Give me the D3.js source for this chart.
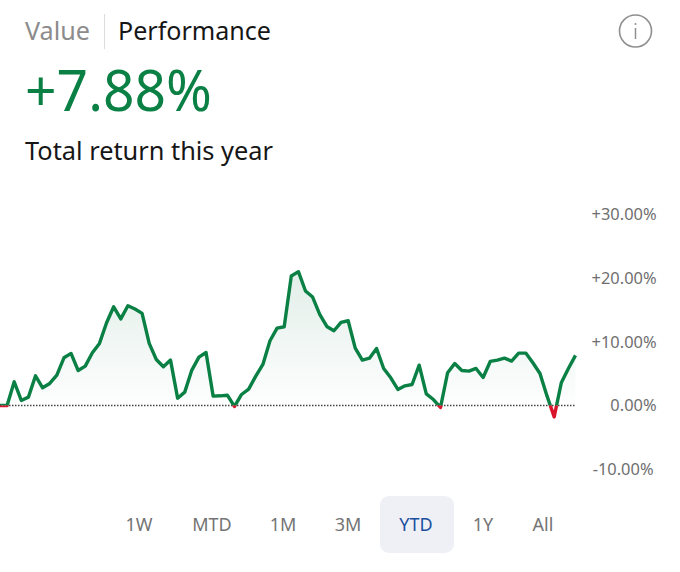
<!DOCTYPE html>
<html><head><meta charset="utf-8">
<script src="https://cdn.jsdelivr.net/npm/d3@7"></script>
<style>html,body{margin:0;padding:0;background:#fff}svg{display:block}text{font-family:"Noto Sans",sans-serif}</style>
</head><body><svg id="c" width="680" height="572"></svg>
<script>
const returns=[0,0,3.72,0.79,1.31,4.66,2.78,3.46,4.77,7.49,8.18,5.5,6.18,8.28,9.75,13.0,15.5,13.6,15.67,15.15,14.47,9.75,7.23,6.08,7.13,1.15,2.1,5.56,7.6,8.33,1.47,1.52,1.62,-0.15,1.73,2.57,4.61,6.45,10.17,12.16,12.37,20.34,21.02,17.98,17.03,14.31,12.42,11.74,13.05,13.31,9.01,7.13,7.44,8.96,5.82,4.35,2.52,3.09,3.3,6.34,1.83,0.94,-0.3,5.14,6.6,5.5,5.4,5.82,4.4,6.92,7.13,7.44,6.97,8.23,8.23,6.71,5.03,1.47,-1.78,3.56,5.82,7.88];
const yTicks=[30,20,10,0,-10];
const ranges=["1W","MTD","1M","3M","YTD","1Y","All"];
const rangeX=[139,212,283,348,416,483,543];
const selectedRange="YTD";
const tabs=["Value","Performance"];
const headline="+7.88%";
const subtitle="Total return this year";

const svg=d3.select("#c");
const x=d3.scaleLinear().domain([0,returns.length-1]).range([0,575.5]);
const y=d3.scaleLinear().domain([0,30]).range([405.5,214.5]);
const GREEN="#0a8045",RED="#d9152c";

// header
svg.append("text").attr("x",25).attr("y",40).attr("font-size",25.5).attr("fill","#8c8c8c").attr("textLength",65).attr("lengthAdjust","spacingAndGlyphs").text(tabs[0]);
svg.append("line").attr("x1",104.5).attr("x2",104.5).attr("y1",14).attr("y2",49).attr("stroke","#dcdcdc");
svg.append("text").attr("x",118).attr("y",40).attr("font-size",25.5).attr("fill","#161616").attr("textLength",153).attr("lengthAdjust","spacingAndGlyphs").text(tabs[1]);
svg.append("text").attr("x",25).attr("y",111).attr("font-size",56).attr("fill",GREEN).attr("textLength",187).attr("lengthAdjust","spacingAndGlyphs").text(headline);
svg.append("text").attr("x",25).attr("y",160).attr("font-size",25.5).attr("fill","#161616").attr("textLength",248).attr("lengthAdjust","spacingAndGlyphs").text(subtitle);
// info icon
svg.append("circle").attr("cx",635.5).attr("cy",31).attr("r",16).attr("fill","none").attr("stroke","#8f8f8f").attr("stroke-width",1.6);
svg.append("line").attr("x1",635.5).attr("x2",635.5).attr("y1",28).attr("y2",39).attr("stroke","#8f8f8f").attr("stroke-width",1.5);
svg.append("circle").attr("cx",635.5).attr("cy",24).attr("r",1).attr("fill","#8f8f8f");

const defs=svg.append("defs");
const g=defs.append("linearGradient").attr("id","fade").attr("gradientUnits","userSpaceOnUse").attr("x1",0).attr("x2",0).attr("y1",y(21)).attr("y2",y(0));
g.append("stop").attr("offset",0).attr("stop-color","#cfe3da").attr("stop-opacity",.6);
g.append("stop").attr("offset",1).attr("stop-color","#cfe3da").attr("stop-opacity",.03);
defs.append("clipPath").attr("id","above").append("rect").attr("x",0).attr("y",0).attr("width",680).attr("height",y(0));
defs.append("clipPath").attr("id","below").append("rect").attr("x",0).attr("y",y(0)).attr("width",680).attr("height",100);

const area=d3.area().x((d,i)=>x(i)).y0(y(0)).y1(d=>y(d));
const line=d3.line().x((d,i)=>x(i)).y(d=>y(d));
svg.append("path").datum(returns).attr("d",area).attr("fill","url(#fade)").attr("clip-path","url(#above)");
svg.append("line").attr("x1",0).attr("x2",575).attr("y1",y(0)).attr("y2",y(0)).attr("stroke","#444").attr("stroke-width",1.5).attr("stroke-dasharray","1.5 1.5");
svg.append("path").datum(returns).attr("d",line).attr("fill","none").attr("stroke",GREEN).attr("stroke-width",3.4).attr("stroke-linejoin","round").attr("clip-path","url(#above)");
svg.append("path").datum(returns).attr("d",line).attr("fill","none").attr("stroke",RED).attr("stroke-width",3.4).attr("stroke-linejoin","round").attr("clip-path","url(#below)");

// y axis
const fmt=d=>(d>0?"+":d<0?"-":"")+Math.abs(d).toFixed(2)+"%";
const axis=d3.axisRight(y).tickValues(yTicks).tickSize(0).tickPadding(0).tickFormat(fmt);
const ag=svg.append("g").attr("transform","translate(656.5,0)").call(axis);
ag.select(".domain").remove();
ag.selectAll("text").attr("text-anchor","end").attr("x",d=>d<0?-3:0).attr("font-size",16.4).attr("fill","#6f6f6f").style("font-family",'"Noto Sans",sans-serif');

// range selector
svg.append("rect").attr("x",380).attr("y",496).attr("width",74).attr("height",57).attr("rx",9).attr("fill","#eef0f6");
svg.selectAll(".r").data(ranges).join("text").attr("class","r").attr("x",(d,i)=>rangeX[i]).attr("y",530.5).attr("text-anchor","middle").attr("font-size",18).attr("fill",d=>d===selectedRange?"#1a4fa0":"#747474").text(d=>d);
</script></body></html>
